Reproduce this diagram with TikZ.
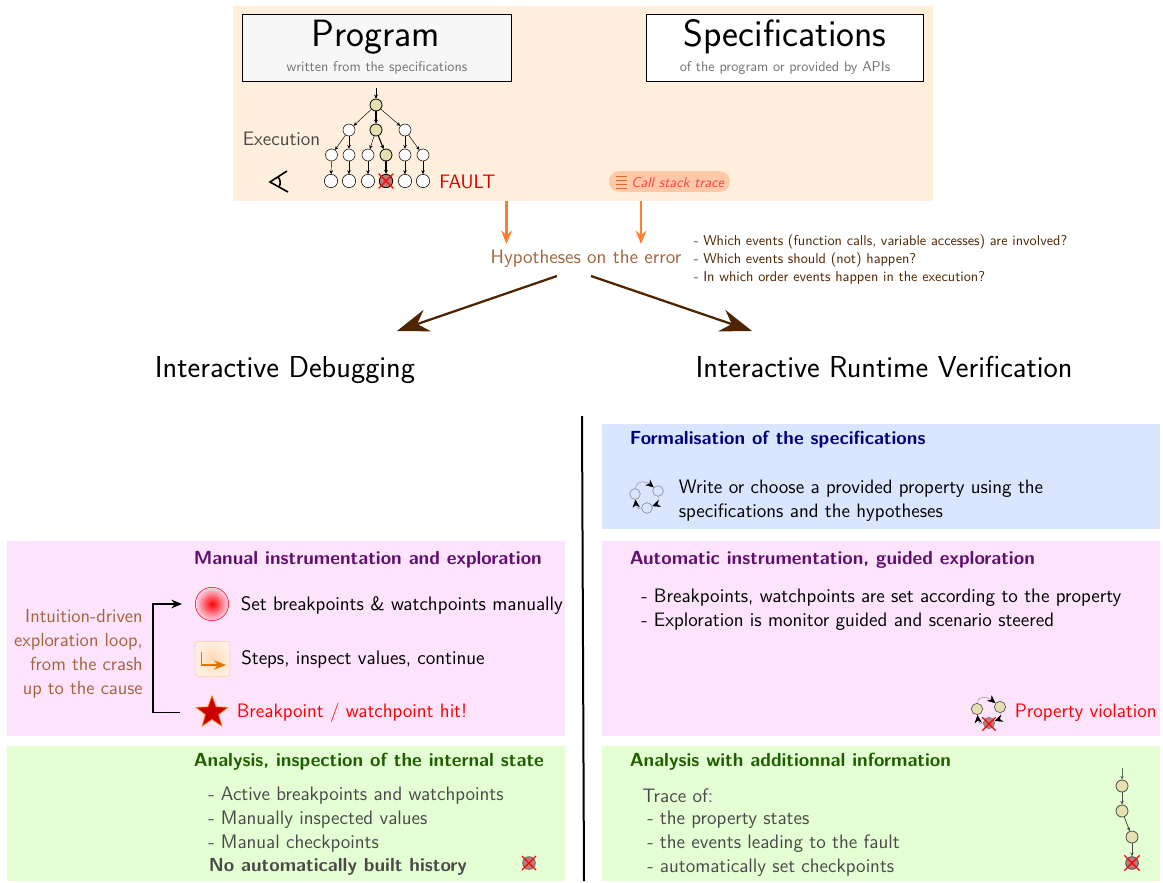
\documentclass[tikz,border=0pt]{standalone}
\usepackage{fontspec}
\usetikzlibrary{arrows.meta,shapes.geometric,shapes.misc}
\renewcommand{\familydefault}{\sfdefault}
\definecolor{topbg}{HTML}{FFEFDC}
\definecolor{pinkbg}{HTML}{FDE4FC}
\definecolor{greenbg}{HTML}{E4FFD4}
\definecolor{bluebg}{HTML}{DAE6FF}
\definecolor{khaki}{HTML}{E6DFAE}
\definecolor{faultc}{HTML}{B87A7A}
\definecolor{navy}{HTML}{00007F}
\definecolor{purp}{HTML}{5F0F6F}
\definecolor{dgreen}{HTML}{1F5F00}
\definecolor{brownt}{HTML}{A5633A}
\definecolor{dbrown}{HTML}{4F2400}
\definecolor{oran}{HTML}{FF7F2F}
\definecolor{greyt}{HTML}{4A4A4A}
\definecolor{pillc}{HTML}{FFC8A8}
\newcommand{\fs}[2]{\fontsize{#1}{#2}\selectfont}
\tikzset{
  x=0.75pt,y=-0.75pt,
  lbl/.style={inner sep=0,anchor=west,font=\fs{14.6}{18}},
  ttl/.style={inner sep=0,anchor=west,font=\fs{14.2}{18}\bfseries},
  multi/.style={inner sep=0,anchor=west,align=left,font=\fs{14.6}{18}},
  big/.style={inner sep=0,font=\fs{28.5}{32}},
  sub/.style={inner sep=0,font=\fs{10.65}{12},text=black!55},
  tn/.style={circle,draw=black,fill=white,line width=0.4pt,inner sep=0,minimum size=9pt},
  hn/.style={tn,fill=khaki,line width=0.6pt},
  fn/.style={tn,fill=faultc,line width=0.6pt},
  xm/.style={cross out,draw=red,line width=1pt,inner sep=0,minimum size=8pt},
  ta/.style={-{Stealth[length=2.8pt,width=2.6pt]},line width=0.35pt,black},
  tb/.style={-{Stealth[length=3pt,width=3pt]},line width=0.8pt,black},
  la/.style={-{Stealth[length=6pt,width=5.5pt,color=black]},line width=0.35pt,black!45},
  oa/.style={-{Stealth[length=10pt,width=8pt]},line width=2pt,oran},
  ba/.style={-{Stealth[length=24pt,width=17pt,inset=8pt]},line width=1.7pt,dbrown},
}
\begin{document}
\begin{tikzpicture}
\useasboundingbox (0,0) rectangle (1163,882);
% panels
\fill[topbg] (233,6) rectangle (933,201);
\fill[bluebg] (602,424) rectangle (1160,529);
\fill[pinkbg] (7,541) rectangle (565,736);
\fill[pinkbg] (602,541) rectangle (1160,736);
\fill[greenbg] (7,746) rectangle (565,881);
\fill[greenbg] (602,746) rectangle (1160,881);
% top boxes
\draw[fill=black!3,line width=0.4pt] (242.5,14.5) rectangle (511.5,81);
\draw[fill=white,line width=0.4pt] (646.5,14.5) rectangle (923.5,81);
\node[big] (prog) at (376,37) {Program};
\node[sub] (progs) at (377,68) {written from the specifications};
\node[big] (spec) at (785,37) {Specifications};
\node[sub] (specs) at (785,68) {of the program or provided by APIs};
% tree
\coordinate (ts) at (376,88);
\node[hn] (r) at (376,105) {};
\node[tn] (a1) at (349,130) {};
\node[hn] (a2) at (376,130) {};
\node[tn] (a3) at (405,130) {};
\node[tn] (b1) at (331.5,155) {};
\node[tn] (b2) at (349,155) {};
\node[tn] (b3) at (368,155) {};
\node[hn] (b4) at (386,155) {};
\node[tn] (b5) at (405,155) {};
\node[tn] (b6) at (423,155) {};
\node[tn,minimum size=10pt] (c1) at (331,181) {};
\node[tn,minimum size=10pt] (c2) at (349,181) {};
\node[tn,minimum size=10pt] (c3) at (368,181) {};
\node[fn,minimum size=10pt] (c4) at (386,181) {};
\node[tn,minimum size=10pt] (c5) at (405,181) {};
\node[tn,minimum size=10pt] (c6) at (423,181) {};
\node[xm,minimum size=10pt] (cx) at (386,181) {};
\draw[tb,line width=0.5pt] (ts)--(r);
\draw[ta] (r)--(a1); \draw[tb] (r)--(a2); \draw[ta] (r)--(a3);
\draw[ta] (a1)--(b1); \draw[ta] (a1)--(b2); \draw[ta] (a2)--(b3); \draw[tb] (a2)--(b4);
\draw[ta] (a3)--(b5); \draw[ta] (a3)--(b6);
\draw[ta] (b1)--(c1); \draw[ta] (b2)--(c2); \draw[ta] (b3)--(c3); \draw[tb] (b4)--(c4);
\draw[ta] (b5)--(c5); \draw[ta] (b6)--(c6);
\node[lbl,text=greyt] (exec) at (242.5,139) {Execution};
\node[lbl,text=red!85!black] (fault) at (439,182) {FAULT};
% eye
\draw[line width=1.2pt] (287,171)--(270,182)--(288,192);
\draw[line width=1.2pt] (278,177) to[bend left=35] (279,187);
% call stack pill
\node[fill=pillc,rounded corners=7.5pt,minimum width=90.5pt,minimum height=15.5pt,inner sep=0] (pill) at (669.5,181.5) {};
\node[inner sep=0,anchor=west,font=\fs{10.7}{12}\itshape,text=red!75!white] (cst) at (631,182.5) {Call stack trace};
\foreach \yy in {176,180,184,188}{\draw[line width=0.7pt,oran!85!black] (616,\yy)--(627,\yy);}
% hypotheses
\node[inner sep=0,font=\fs{14.6}{16},text=brownt] (hyp) at (586,258.5) {Hypotheses on the error};
\node[inner sep=0,anchor=west,align=left,font=\fs{10.7}{13.5},text=dbrown] (q) at (693.5,259.5) {- Which events (function calls, variable accesses) are involved?\\- Which events should (not) happen?\\- In which order events happen in the execution?};
\coordinate (t1) at (506.5,201); \coordinate (t2) at (641,201);
\coordinate (t3) at (506.5,244); \coordinate (t4) at (641,244);
\draw[oa] (t1)--(t3);
\draw[oa] (t2)--(t4);
\coordinate (h1) at (557,276); \coordinate (h2) at (591,276);
\coordinate (d1) at (397,331); \coordinate (d2) at (752,331);
\draw[ba] (h1)--(d1);
\draw[ba] (h2)--(d2);
\node[inner sep=0,anchor=base,font=\fs{22.7}{26}] (id) at (285,377) {Interactive Debugging};
\node[inner sep=0,anchor=base,font=\fs{22.7}{26}] (irv) at (884,377) {Interactive Runtime Verification};
% separator
\coordinate (s1) at (582,416); \coordinate (s2) at (584,881);
\draw[line width=1.5pt] (s1)--(s2);
% blue panel
\node[ttl,text=navy] (f1) at (629.5,440) {Formalisation of the specifications};
\node[multi] (f2) at (678.5,500.5) {Write or choose a provided property using the\\specifications and the hypotheses};
\node[tn,minimum size=8pt,fill=none,draw=black!50] (l1) at (635,494) {};
\node[tn,minimum size=8pt,fill=none,draw=black!50] (l2) at (658,491) {};
\node[tn,minimum size=8pt,fill=none,draw=black!50] (l3) at (647,508) {};
\draw[la] (l1) to[out=85,in=140,looseness=1.3] (l2);
\draw[la] (l2) to[out=-80,in=20] (l3);
\draw[la] (l3) to[out=190,in=-85] (l1);
% left pink
\node[ttl,text=purp] (m1) at (193.5,560) {Manual instrumentation and exploration};
\node[inner sep=0,anchor=east,align=right,font=\fs{14.2}{18},text=brownt] (loop) at (143,654) {Intuition-driven\\exploration loop,\\from the crash\\up to the cause};
\shade[inner color=red,outer color=red!5!pinkbg] (212,604) circle[radius=12.5pt];
\node[circle,draw=red,line width=0.4pt,minimum size=25pt,inner sep=0] (bp) at (212,604) {};
\node[lbl] (m2) at (240.5,605.5) {Set breakpoints \& watchpoints manually};
\node[draw=orange!40,rounded corners=2pt,line width=0.4pt,minimum size=26pt,inner sep=0,inner color=orange!30!white,outer color=orange!12!white] (stp) at (212.5,659) {};
\coordinate (st1) at (201.5,651.5); \coordinate (st2) at (201.5,665); \coordinate (st3) at (226,665);
\draw[line width=0.9pt,orange!90!black,-{Stealth[length=9pt,width=7pt]}] (st1)--(st2)--(st3);
\node[lbl] (m3) at (241,659.5) {Steps, inspect values, continue};
\node[star,star points=5,star point ratio=2.4,minimum size=25pt,inner sep=0,fill=red!80!black,draw=orange,line width=0.5pt] (st) at (212,712.5) {};
\node[lbl,text=red] (m4) at (236.5,712.5) {Breakpoint / watchpoint hit!};
\coordinate (la) at (180,712.5); \coordinate (lb) at (153,712.5);
\coordinate (lc) at (153,604); \coordinate (ld) at (182,604);
\draw[line width=1.2pt,-{Stealth[length=8pt,width=6.5pt]}] (la)--(lb)--(lc)--(ld);
% right pink
\node[ttl,text=purp] (a0) at (629.5,560) {Automatic instrumentation, guided exploration};
\node[multi] (a9) at (641,609.5) {- Breakpoints, watchpoints are set according to the property\\- Exploration is monitor guided and scenario steered};
\node[hn,minimum size=8.5pt,draw=black!60] (v1) at (977,709) {};
\node[hn,minimum size=8.5pt,draw=black!60] (v2) at (1000,707) {};
\node[fn,minimum size=8.5pt,draw=black!50] (v3) at (989,723) {};
\node[xm,minimum size=9pt] (vx) at (989,724) {};
\draw[la] (v1) to[out=85,in=140,looseness=1.3] (v2);
\draw[la] (v2) to[out=-80,in=20] (v3);
\draw[la] (v3) to[out=190,in=-85] (v1);
\node[lbl,text=red] (pv) at (1014.5,712.5) {Property violation};
% left green
\node[ttl,text=dgreen] (g1) at (193.5,762) {Analysis, inspection of the internal state};
\node[lbl,text=greyt] (g2) at (208,796) {- Active breakpoints and watchpoints};
\node[lbl,text=greyt] (g3) at (208,819.5) {- Manually inspected values};
\node[lbl,text=greyt] (g4) at (208,843.5) {- Manual checkpoints};
\node[ttl,text=greyt] (g5) at (208.5,867) {No automatically built history};
\node[fn,minimum size=9.5pt,draw=black!60] (gf) at (529,863) {};
\node[xm,minimum size=9.5pt] (gx) at (529,863) {};
% right green
\node[ttl,text=dgreen] (r1) at (629.5,762) {Analysis with additionnal information};
\node[lbl,text=greyt] (r2) at (642,796) {Trace of:};
\node[lbl,text=greyt] (r3) at (647,819.5) {- the property states};
\node[lbl,text=greyt] (r4) at (647,843.5) {- the events leading to the fault};
\node[lbl,text=greyt] (r5) at (647,867.5) {- automatically set checkpoints};
\coordinate (tr0) at (1122,768);
\node[hn,minimum size=9pt,draw=black!70] (tr1) at (1122,786) {};
\node[hn,minimum size=9pt,draw=black!70] (tr2) at (1122,811) {};
\node[hn,minimum size=9pt,draw=black!70] (tr3) at (1132,837) {};
\node[fn,minimum size=9.5pt,draw=black!70] (tr4) at (1132,863) {};
\node[xm,minimum size=10.5pt] (trx) at (1132,863) {};
\draw[ta,black!60] (tr0)--(tr1);
\draw[ta,line width=0.6pt,black!70] (tr1)--(tr2);
\draw[ta,line width=0.6pt,black!70] (tr2)--(tr3);
\draw[ta,line width=0.6pt,black!70] (tr3)--(tr4);
\end{tikzpicture}
\end{document}
